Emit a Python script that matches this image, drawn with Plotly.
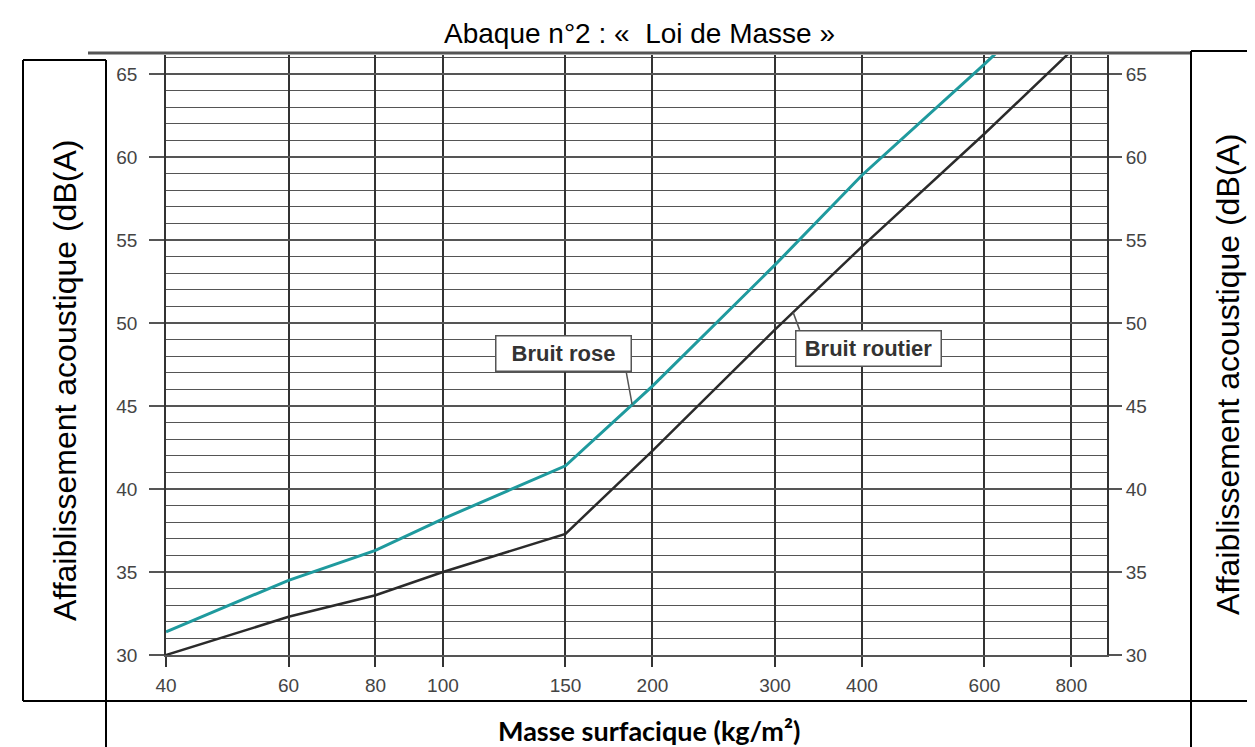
import numpy as np
import plotly.graph_objects as go

# ---- data ----
masses = [40, 60, 80, 100, 150, 200, 300, 400, 600, 800]
mass_labels = ["40", "60", "80", "100", "150", "200", "300", "400", "600", "800"]
bruit_rose = [31.4, 34.5, 36.3, 38.2, 41.4, 46.2, 53.5, 58.9, 65.6, 70.5]
bruit_routier = [30.0, 32.3, 33.6, 35.0, 37.3, 42.3, 49.6, 54.6, 61.4, 66.4]
db_ticks = [30, 35, 40, 45, 50, 55, 60, 65]

title_text = "Abaque n°2 : «  Loi de Masse »"
ylabel_text = "Affaiblissement acoustique (dB(A)"
xlabel_text = "<b>Masse surfacique (kg/m²)</b>"

W, H = 1255, 747
L, R, T, B = 158, 1099, 47, 647


def px(xp, yp):
    return (xp - L) / (R - L), (B - yp) / (B - T)


GRID_V = "#333333"
GRID_H = "#555555"
TXT = "#444444"

fig = go.Figure()
fig.add_trace(go.Scatter(x=masses, y=bruit_rose, mode="lines",
                         line=dict(color="#1f9a9e", width=3), showlegend=False))
fig.add_trace(go.Scatter(x=masses, y=bruit_routier, mode="lines",
                         line=dict(color="#2b2b2b", width=2.5), showlegend=False))
# invisible trace so the right-hand axis is drawn
fig.add_trace(go.Scatter(x=masses, y=bruit_routier, mode="lines", yaxis="y2",
                         line=dict(color="rgba(0,0,0,0)", width=0), showlegend=False,
                         hoverinfo="skip"))

y_top = 30 + (B - T) / 16.6

tickfont = dict(family="Liberation Sans, Arial", size=19, color=TXT)

fig.update_layout(
    width=W, height=H,
    margin=dict(l=L, r=W - R, t=T, b=H - B, pad=0),
    paper_bgcolor="white", plot_bgcolor="white",
    xaxis=dict(type="log", range=[np.log10(40), np.log10(900)],
               tickvals=masses, ticktext=mass_labels,
               showgrid=True, gridcolor=GRID_V, gridwidth=1.8,
               ticks="outside", ticklen=10, tickwidth=1.8, tickcolor=GRID_V,
               tickfont=tickfont, ticklabelstandoff=2,
               showline=True, linecolor=GRID_H, linewidth=1.5,
               zeroline=False),
    yaxis=dict(range=[30, y_top], tickvals=db_ticks,
               showgrid=True, gridcolor=GRID_H, gridwidth=1.5,
               minor=dict(dtick=1, tick0=30, showgrid=True, gridcolor=GRID_H, gridwidth=1.3),
               ticks="outside", ticklen=15, tickwidth=1.5, tickcolor=GRID_H,
               tickfont=tickfont, ticklabelstandoff=8,
               showline=True, linecolor=GRID_V, linewidth=1.8, zeroline=False),
    yaxis2=dict(range=[30, y_top], tickvals=db_ticks, overlaying="y", side="right",
                showgrid=False, ticks="outside", ticklen=13, tickwidth=1.5,
                tickcolor=GRID_H, tickfont=tickfont, ticklabelstandoff=0,
                showline=True, linecolor=GRID_V, linewidth=1.8, zeroline=False),
)

shapes = []


def pline(x0, y0, x1, y1, color="black", width=2):
    a, b = px(x0, y0)
    c, d = px(x1, y1)
    shapes.append(dict(type="line", xref="paper", yref="paper", x0=a, y0=b, x1=c, y1=d,
                       line=dict(color=color, width=width)))


# top border of the scanned chart
pline(80, 45, 1182, 45, color="#555555", width=3)
# table frame
pline(15, 52, 98, 52)
pline(15, 52, 15, 693)
pline(98, 52, 98, 747)
pline(15, 693, 1255, 693)
pline(1183, 43, 1183, 747)
pline(1183, 43, 1255, 43)
fig.update_layout(shapes=shapes)

ann = []


def ptext(xp, yp, text, size, family="Liberation Sans, Arial", color="black", angle=0, **kw):
    a, b = px(xp, yp)
    ann.append(dict(xref="paper", yref="paper", x=a, y=b, text=text, showarrow=False,
                    xanchor="center", yanchor="middle", textangle=angle,
                    font=dict(family=family, size=size, color=color), **kw))


ptext(631, 25, title_text, 28)
ptext(57, 373, ylabel_text, 32, angle=-90)
ptext(1220, 367, ylabel_text, 32, angle=-90)
ptext(641, 722, xlabel_text, 27, family="Lato, Carlito, sans-serif")

# callout boxes
ptext(555, 345.5, "<b>Bruit rose</b>", 22, color="#333333",
      bgcolor="white", bordercolor="#555555", borderwidth=1.5, borderpad=2,
      width=130, height=30)
ptext(860, 340, "<b>Bruit routier</b>", 22, color="#333333",
      bgcolor="white", bordercolor="#555555", borderwidth=1.5, borderpad=2,
      width=140, height=30)

# pointers
ann.append(dict(xref="x", yref="y", x=np.log10(187), y=45.1, text="", showarrow=True,
                arrowhead=0, arrowwidth=1.5, arrowcolor="#555555", ax=-6, ay=-33))
ann.append(dict(xref="x", yref="y", x=np.log10(318.6), y=50.64, text="", showarrow=True,
                arrowhead=0, arrowwidth=1.5, arrowcolor="#555555", ax=7, ay=19))

fig.update_layout(annotations=ann)

fig.write_html("out.html")
